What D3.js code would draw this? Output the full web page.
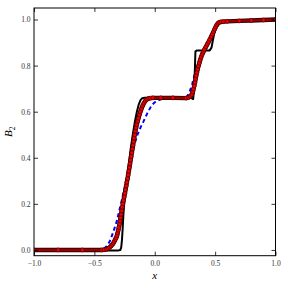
<!DOCTYPE html>
<html>
<head>
<meta charset="utf-8">
<script src="https://cdn.jsdelivr.net/npm/d3@7"></script>
<style>
body { margin: 0; background: #fff; }
svg { display: block; }
</style>
</head>
<body>
<div id="chart"></div>
<script>
// values
let xTicks = [-1.0, -0.5, 0.0, 0.5, 1.0];
let yTicks = [0.0, 0.2, 0.4, 0.6, 0.8, 1.0];

// thick black solid curve
let blackLine = [
    [-1.0, -0.002], [-0.30, -0.002], [-0.285, 0.0], [-0.278, 0.01], [-0.272, 0.04],
    [-0.266, 0.09], [-0.26, 0.15], [-0.252, 0.21], [-0.242, 0.26], [-0.231, 0.30],
    [-0.215, 0.37], [-0.199, 0.44], [-0.182, 0.50], [-0.165, 0.555], [-0.148, 0.60],
    [-0.132, 0.632], [-0.118, 0.65], [-0.105, 0.658], [-0.09, 0.66], [0.30, 0.66],
    [0.318, 0.655], [0.326, 0.70], [0.332, 0.78], [0.337, 0.862], [0.35, 0.866],
    [0.455, 0.866], [0.47, 0.878], [0.485, 0.92], [0.50, 0.958], [0.512, 0.978],
    [0.525, 0.987], [0.545, 0.99], [0.7, 0.994], [1.0, 1.0]
];

// blue dashed curve
let blueLine = [
    [-1.0, 0.0], [-0.46, 0.0], [-0.43, 0.004], [-0.41, 0.01], [-0.39, 0.022],
    [-0.37, 0.04], [-0.342, 0.08], [-0.314, 0.125], [-0.287, 0.185], [-0.26, 0.245],
    [-0.237, 0.30], [-0.21, 0.37], [-0.18, 0.44], [-0.143, 0.50], [-0.115, 0.535],
    [-0.094, 0.557], [-0.06, 0.595], [-0.024, 0.629], [0.01, 0.645], [0.045, 0.653],
    [0.1, 0.658], [0.24, 0.659], [0.27, 0.667], [0.29, 0.688], [0.31, 0.72],
    [0.33, 0.76], [0.36, 0.805], [0.395, 0.845], [0.44, 0.893], [0.48, 0.935],
    [0.51, 0.965], [0.535, 0.982], [0.56, 0.988], [0.6, 0.99], [0.8, 0.995], [1.0, 1.0]
];

// red circles (dense samples)
let redLine = [
    [-1.0, 0.0], [-0.8, 0.0], [-0.6, 0.0], [-0.44, 0.0], [-0.42, 0.001], [-0.40, 0.003],
    [-0.385, 0.007], [-0.372, 0.012], [-0.36, 0.018], [-0.35, 0.024], [-0.342, 0.030],
    [-0.334, 0.038], [-0.326, 0.046], [-0.319, 0.053], [-0.313, 0.062], [-0.307, 0.074],
    [-0.302, 0.086], [-0.297, 0.098], [-0.292, 0.112], [-0.287, 0.126], [-0.283, 0.140],
    [-0.279, 0.155], [-0.274, 0.170], [-0.269, 0.185], [-0.264, 0.200], [-0.259, 0.215],
    [-0.253, 0.230], [-0.247, 0.246], [-0.242, 0.262], [-0.236, 0.278], [-0.231, 0.294],
    [-0.225, 0.310], [-0.220, 0.326], [-0.215, 0.342], [-0.210, 0.358], [-0.205, 0.374],
    [-0.200, 0.390], [-0.195, 0.406], [-0.190, 0.422], [-0.185, 0.438], [-0.180, 0.454],
    [-0.175, 0.470], [-0.171, 0.485], [-0.166, 0.500], [-0.161, 0.515], [-0.155, 0.530],
    [-0.149, 0.544], [-0.142, 0.558], [-0.135, 0.572], [-0.127, 0.586], [-0.119, 0.600],
    [-0.110, 0.613], [-0.100, 0.626], [-0.090, 0.637], [-0.079, 0.646], [-0.066, 0.653],
    [-0.052, 0.657], [-0.035, 0.659], [-0.015, 0.66], [0.05, 0.66], [0.15, 0.66],
    [0.26, 0.659], [0.28, 0.662], [0.295, 0.667], [0.307, 0.675], [0.315, 0.686],
    [0.321, 0.698], [0.327, 0.712], [0.333, 0.727], [0.338, 0.742], [0.343, 0.756],
    [0.349, 0.770], [0.355, 0.784], [0.362, 0.798], [0.369, 0.811], [0.376, 0.824],
    [0.384, 0.837], [0.393, 0.849], [0.403, 0.860], [0.413, 0.871], [0.424, 0.882],
    [0.435, 0.893], [0.446, 0.903], [0.457, 0.914], [0.467, 0.925], [0.477, 0.936],
    [0.487, 0.947], [0.496, 0.958], [0.505, 0.968], [0.514, 0.977], [0.524, 0.984],
    [0.535, 0.988], [0.55, 0.990], [0.57, 0.991], [0.6, 0.992], [0.7, 0.994],
    [0.8, 0.996], [0.9, 0.998], [1.0, 1.0]
];

//Width and height
let width = 288,
    height = 288,
    margin = {top: 8, right: 12.5, bottom: 32.3, left: 34};
let innerW = width - margin.left - margin.right,
    innerH = height - margin.top - margin.bottom;

let x = d3.scaleLinear().domain([-1, 1]).range([0, innerW]);
let y = d3.scaleLinear().domain([-0.025, 1.05]).range([innerH, 0]);

let fmt = d3.format(".1f");
let serif = "'Liberation Serif', 'DejaVu Serif', serif";

let svg = d3.select("#chart").append("svg")
    .attr("width", width)
    .attr("height", height);

let g = svg.append("g")
    .attr("transform", "translate(" + margin.left + "," + margin.top + ")");

g.append("clipPath").attr("id", "clip")
    .append("rect").attr("width", innerW).attr("height", innerH);

let line = d3.line()
    .x(function(d) { return x(d[0]); })
    .y(function(d) { return y(d[1]); });

let plot = g.append("g").attr("clip-path", "url(#clip)");

// blue dashed
plot.append("path")
    .attr("d", line(blueLine))
    .attr("fill", "none")
    .attr("stroke", "#0000ff")
    .attr("stroke-width", 2)
    .attr("stroke-dasharray", "4,3");

// black solid
plot.append("path")
    .attr("d", line(blackLine))
    .attr("fill", "none")
    .attr("stroke", "#000")
    .attr("stroke-width", 2)
    .attr("stroke-linejoin", "round");

// red: band + markers
plot.append("path")
    .attr("d", line(redLine))
    .attr("fill", "none")
    .attr("stroke", "#2a0000")
    .attr("stroke-width", 4.4)
    .attr("stroke-linejoin", "round");
plot.append("path")
    .attr("d", line(redLine))
    .attr("fill", "none")
    .attr("stroke", "#9a0000")
    .attr("stroke-width", 2.6)
    .attr("stroke-linejoin", "round");
plot.selectAll("circle")
    .data(redLine).enter()
    .append("circle")
    .attr("cx", function(d) { return x(d[0]); })
    .attr("cy", function(d) { return y(d[1]); })
    .attr("r", 2.0)
    .attr("fill", "#ee0000")
    .attr("stroke", "#400000")
    .attr("stroke-width", 0.6);

// axes, ticks point inward
let xAxis = g.append("g")
    .attr("transform", "translate(0," + innerH + ")")
    .call(d3.axisBottom(x).tickValues(xTicks).tickFormat(fmt).tickSize(-4).tickSizeOuter(0).tickPadding(4.5));
let yAxis = g.append("g")
    .call(d3.axisLeft(y).tickValues(yTicks).tickFormat(fmt).tickSize(-4).tickSizeOuter(0).tickPadding(3.5));
g.append("g")
    .call(d3.axisTop(x).tickValues(xTicks).tickFormat("").tickSize(-4).tickSizeOuter(0));
g.append("g")
    .attr("transform", "translate(" + innerW + ",0)")
    .call(d3.axisRight(y).tickValues(yTicks).tickFormat("").tickSize(-4).tickSizeOuter(0));

g.selectAll(".domain").remove();
g.selectAll(".tick line").attr("stroke", "#000").attr("stroke-width", 0.8);
g.selectAll(".tick text")
    .attr("font-family", serif)
    .attr("font-size", 7.5)
    .attr("fill", "#333");

// frame
g.append("rect")
    .attr("width", innerW)
    .attr("height", innerH)
    .attr("fill", "none")
    .attr("stroke", "#000")
    .attr("stroke-width", 1);

// axis labels
svg.append("text")
    .attr("x", margin.left + innerW / 2)
    .attr("y", 279)
    .attr("text-anchor", "middle")
    .attr("font-family", serif)
    .attr("font-style", "italic")
    .attr("font-size", 11)
    .text("x");

let yl = svg.append("text")
    .attr("transform", "translate(12," + (margin.top + innerH / 2) + ") rotate(-90)")
    .attr("text-anchor", "middle")
    .attr("font-family", serif)
    .attr("font-size", 11);
yl.append("tspan").attr("font-style", "italic").text("B");
yl.append("tspan").attr("font-size", 7.5).attr("dy", 2.5).text("2");
</script>
</body>
</html>
